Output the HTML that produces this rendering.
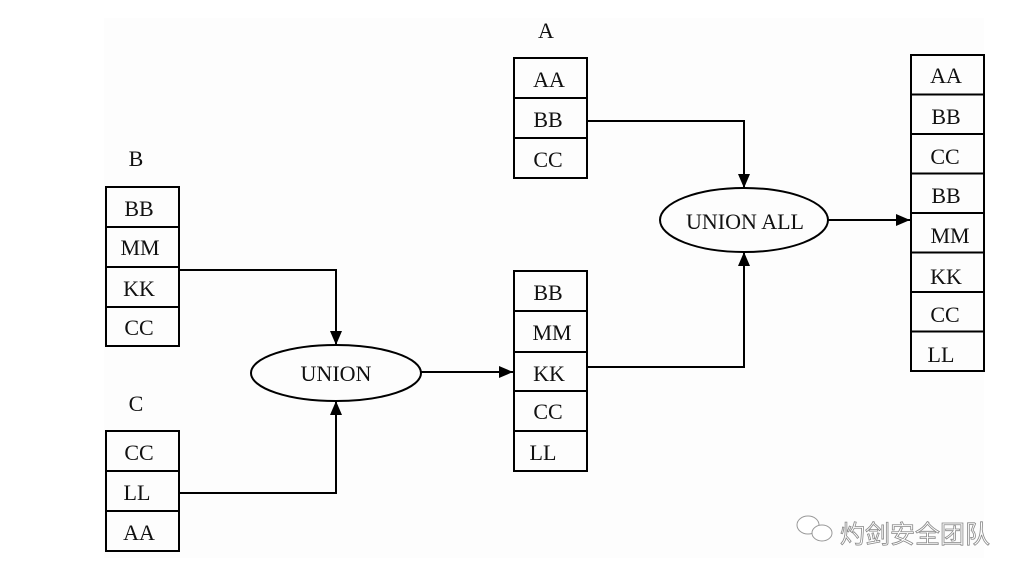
<!DOCTYPE html>
<html><head><meta charset="utf-8"><style>
html,body{margin:0;padding:0;background:#fff;width:1024px;height:578px;overflow:hidden}
svg{display:block}
text{font-family:"Liberation Serif",serif;font-size:22px;fill:#111}
</style></head><body>
<svg width="1024" height="578" viewBox="0 0 1024 578" xmlns="http://www.w3.org/2000/svg">
<rect x="104" y="18" width="880" height="540" fill="#fdfdfd"/>
<defs><marker id="ar" markerWidth="14" markerHeight="12" refX="14" refY="6" orient="auto" markerUnits="userSpaceOnUse"><path d="M0,0 L14,6 L0,12 Z" fill="#000"/></marker></defs>
<g fill="none" stroke="#000" stroke-width="2">
<rect x="106" y="187" width="73" height="159"/>
<line x1="106" y1="227" x2="179" y2="227"/><line x1="106" y1="267" x2="179" y2="267"/><line x1="106" y1="307" x2="179" y2="307"/>
<rect x="106" y="431" width="73" height="120"/>
<line x1="106" y1="471" x2="179" y2="471"/><line x1="106" y1="511" x2="179" y2="511"/>
<rect x="514" y="58" width="73" height="120"/>
<line x1="514" y1="98" x2="587" y2="98"/><line x1="514" y1="138" x2="587" y2="138"/>
<rect x="514" y="271" width="73" height="200"/>
<line x1="514" y1="311" x2="587" y2="311"/><line x1="514" y1="352" x2="587" y2="352"/><line x1="514" y1="391" x2="587" y2="391"/><line x1="514" y1="431" x2="587" y2="431"/>
<rect x="911" y="55" width="73" height="316"/>
<line x1="911" y1="94.5" x2="984" y2="94.5"/><line x1="911" y1="134" x2="984" y2="134"/><line x1="911" y1="173.5" x2="984" y2="173.5"/><line x1="911" y1="213" x2="984" y2="213"/><line x1="911" y1="252.5" x2="984" y2="252.5"/><line x1="911" y1="292" x2="984" y2="292"/><line x1="911" y1="331.5" x2="984" y2="331.5"/>
<ellipse cx="336" cy="373" rx="85" ry="28"/>
<ellipse cx="744" cy="220" rx="84" ry="32"/>
<polyline points="179,270 336,270 336,345" marker-end="url(#ar)"/>
<polyline points="179,493 336,493 336,401" marker-end="url(#ar)"/>
<line x1="421" y1="372" x2="513" y2="372" marker-end="url(#ar)"/>
<polyline points="587,121 744,121 744,188" marker-end="url(#ar)"/>
<polyline points="587,367 744,367 744,252" marker-end="url(#ar)"/>
<line x1="828" y1="220" x2="910" y2="220" marker-end="url(#ar)"/>
</g>
<text x="546" y="38" text-anchor="middle">A</text>
<text x="136" y="166" text-anchor="middle">B</text>
<text x="136" y="411" text-anchor="middle">C</text>
<g text-anchor="middle">
<text x="139" y="216">BB</text><text x="140" y="255">MM</text><text x="139" y="296">KK</text><text x="139" y="335">CC</text>
<text x="139" y="460">CC</text><text x="137" y="500">LL</text><text x="139" y="540">AA</text>
<text x="549" y="87">AA</text><text x="548" y="127">BB</text><text x="548" y="167">CC</text>
<text x="548" y="300">BB</text><text x="552" y="340">MM</text><text x="549" y="381">KK</text><text x="548" y="419">CC</text><text x="543" y="460">LL</text>
<text x="946" y="83">AA</text><text x="946" y="124">BB</text><text x="945" y="164">CC</text><text x="946" y="203">BB</text><text x="950" y="243">MM</text><text x="946" y="284">KK</text><text x="945" y="322">CC</text><text x="941" y="362">LL</text>
<text x="336" y="381">UNION</text>
<text x="745" y="229">UNION ALL</text>
</g>
<g fill="#fff" stroke="#999" stroke-width="1">
<ellipse cx="808" cy="525" rx="11" ry="9"/><ellipse cx="822" cy="533" rx="10" ry="8"/>
</g>
<text x="840" y="543" style="font-family:'Liberation Sans','Noto Sans CJK SC',sans-serif;font-size:25px;fill:#fff;stroke:#888;stroke-width:0.8">灼剑安全团队</text>
</svg>
</body></html>
